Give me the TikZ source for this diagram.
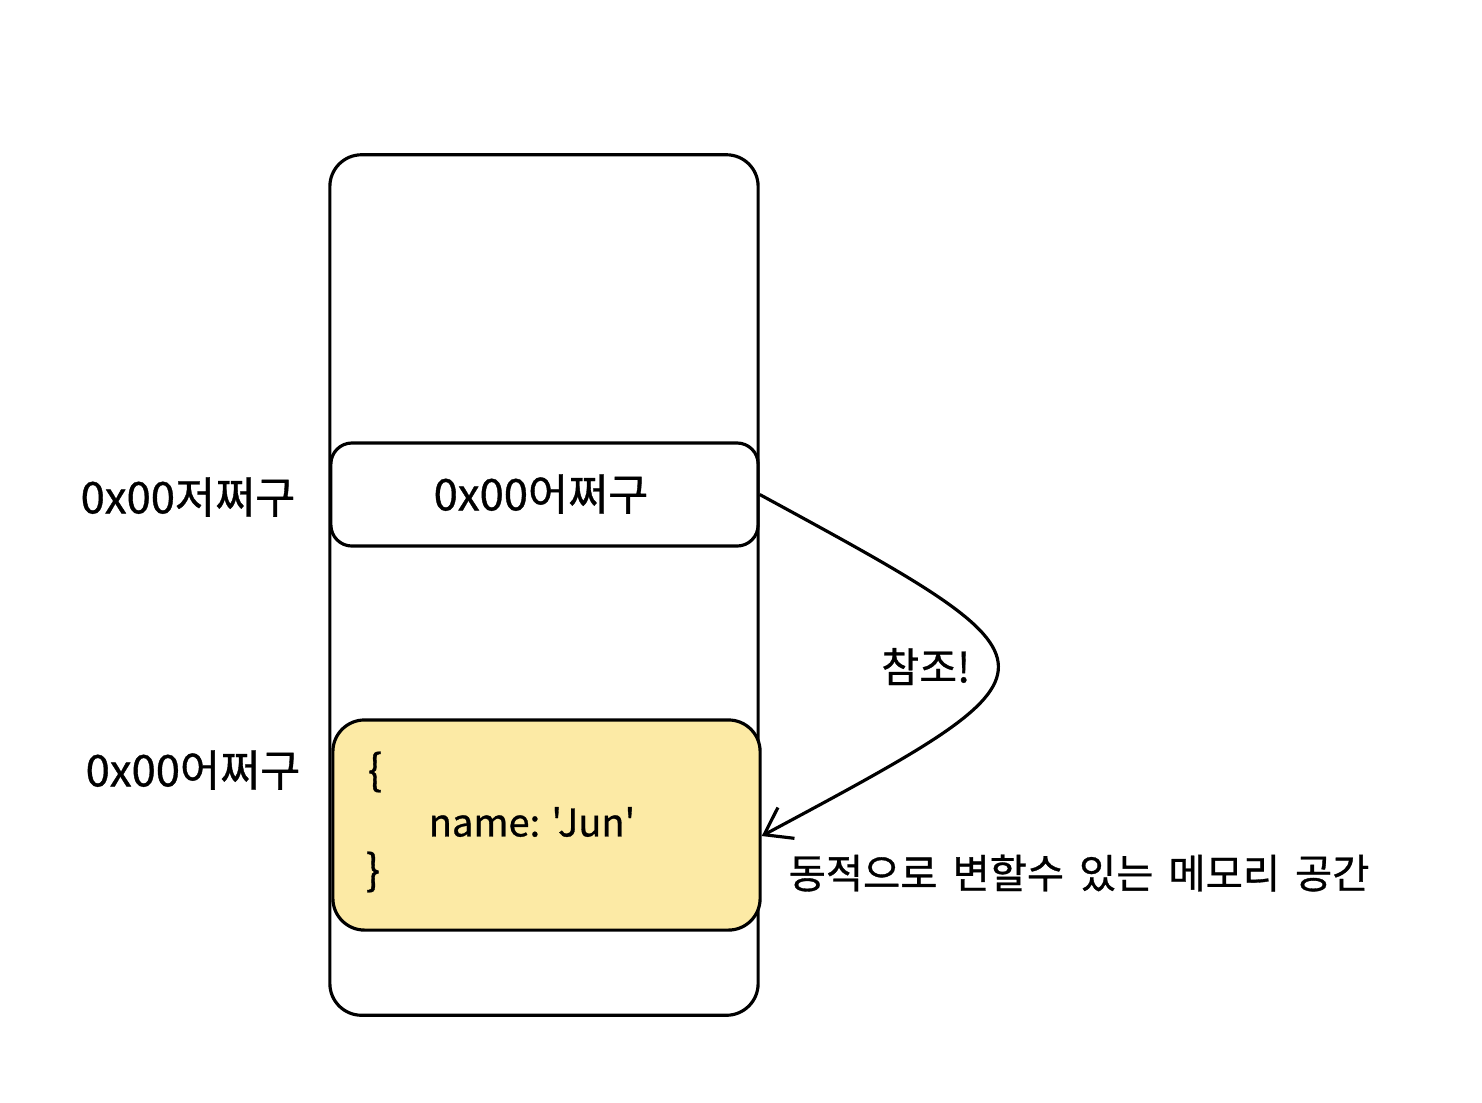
\documentclass[tikz,border=0pt]{standalone}
\usepackage{fontspec}
\newfontfamily\kr[FakeBold=0.8]{Noto Sans CJK KR}
\usetikzlibrary{arrows.meta}
\newcommand\wgap{\hspace{0.37em}}
\tikzset{
  cell/.style={draw, line width=0.9pt, rounded corners=6pt, inner sep=0pt},
  lbl/.style={font=\kr\fontsize{12.4}{14}\selectfont, inner sep=0pt},
}
\begin{document}
\begin{tikzpicture}[x=0.01cm, y=-0.01cm]
\useasboundingbox (0,0) rectangle (1482,1102);
\node[cell, rounded corners=9pt, minimum width=4.28cm, minimum height=8.6cm] (heap) at (544,585){};
\node[cell, minimum width=4.27cm, minimum height=1.03cm] (ref) at (544.5,494.5){};
\node[cell, fill={rgb,255:red,252;green,234;blue,165}, rounded corners=9pt, minimum width=4.27cm, minimum height=2.1cm] (obj) at (546.5,825){};
%
\node[lbl] (refval) at (541,494){0x00어쩌구};
\node[lbl] (refaddr) at (188,497){0x00저쩌구};
\node[lbl] (objaddr) at (193,770){0x00어쩌구};
\node[lbl, font=\kr\fontsize{12}{14}\selectfont] (open) at (375,772){\{};
\node[lbl, font=\kr\fontsize{10.8}{12}\selectfont] (field) at (532,822){name: 'Jun'};
\node[lbl, font=\kr\fontsize{12}{14}\selectfont] (close) at (373,872){\}};
\node[lbl, font=\kr\fontsize{11.5}{14}\selectfont, anchor=west] (heapnote) at (788,873){동적으로\wgap 변할수\wgap 있는\wgap 메모리\wgap 공간};
%
\draw[line width=0.9pt, -{Straight Barb[length=2.5mm, width=3.5mm]}]
  (ref.east) .. controls (1077,667) .. node[pos=0.5, left=26*0.01cm, lbl, font=\kr\fontsize{11.7}{14}\selectfont] (cham){참조!} ([yshift=-0.11cm]obj.east);

\end{tikzpicture}
\end{document}
